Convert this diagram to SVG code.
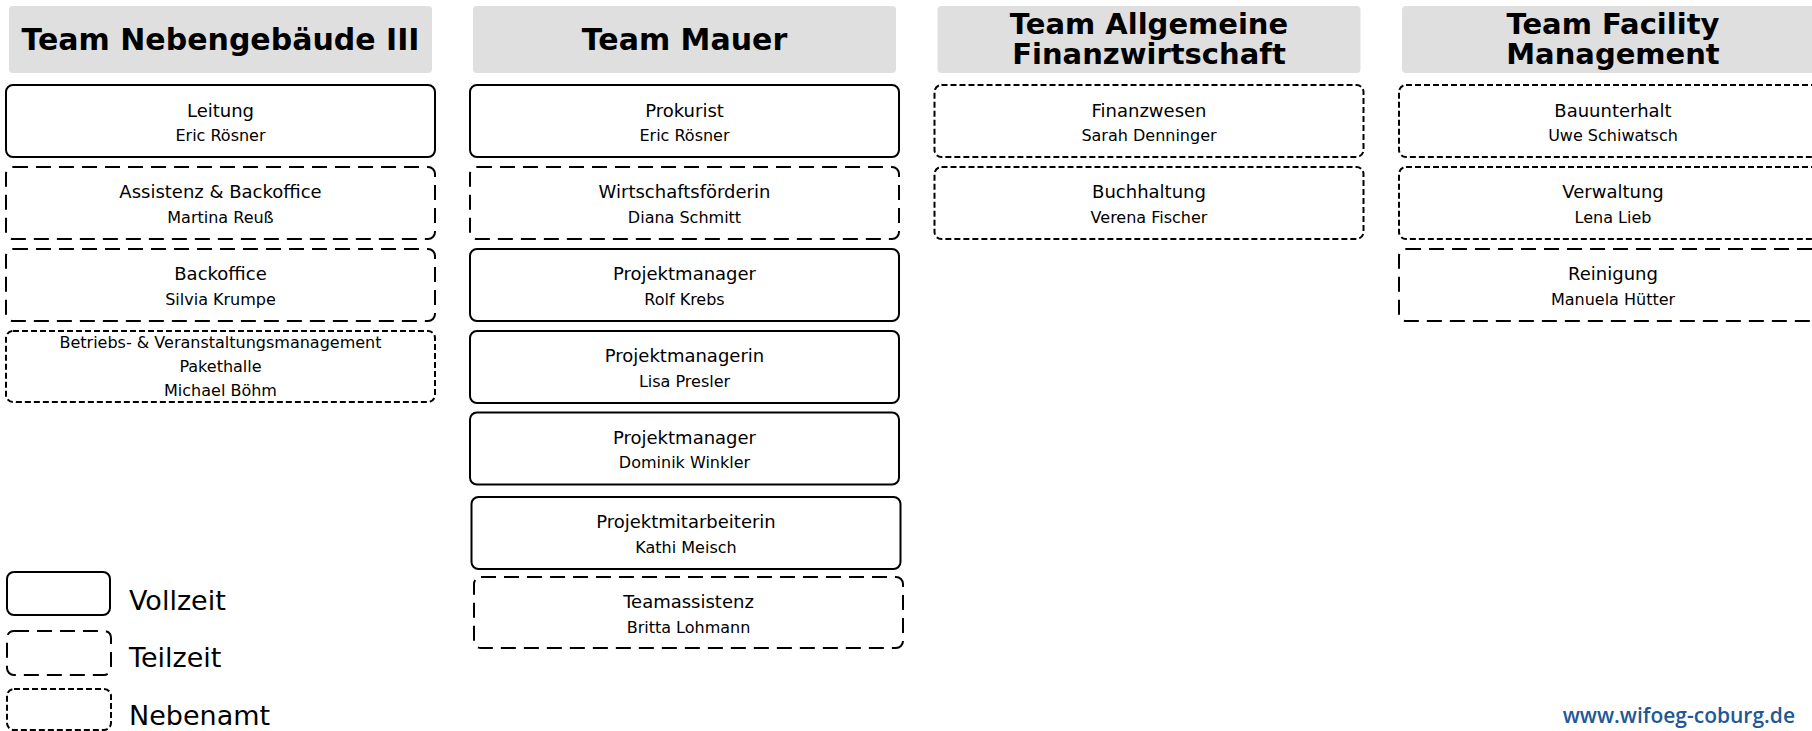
<svg xmlns="http://www.w3.org/2000/svg" width="1812" height="731" viewBox="0 0 1812 731">
<style>
.bg{fill:#ffffff}
.hdr{fill:#dfdfdf}
.ht{font-family:"DejaVu Sans",Verdana,sans-serif;font-weight:bold;font-size:30px;fill:#000;text-anchor:middle}
.ht2{font-family:"DejaVu Sans",Verdana,sans-serif;font-weight:bold;font-size:29px;fill:#000;text-anchor:middle}
.box{fill:#fff;stroke:#000;stroke-width:2}
.voll{}
.teil{stroke-dasharray:15 8}
.neben{stroke-dasharray:6 3}
.t1{font-family:"DejaVu Sans",Verdana,sans-serif;font-size:18px;fill:#000;text-anchor:middle}
.t2{font-family:"DejaVu Sans",Verdana,sans-serif;font-size:16px;fill:#000;text-anchor:middle}
.lg{font-family:"DejaVu Sans",Verdana,sans-serif;font-size:27px;fill:#000}
.url{font-family:"Open Sans",sans-serif;font-weight:600;font-size:21px;fill:#1f5896;text-anchor:end}
</style>
<rect class="bg" x="0" y="0" width="1812" height="731"/>

<g id="headers">
  <g id="hdr-nebengebaeude">
    <rect class="hdr" x="9" y="6" width="423" height="67" rx="4"/>
    <text class="ht" x="220.5" y="49.5">Team Nebengebäude III</text>
  </g>
  <g id="hdr-mauer">
    <rect class="hdr" x="473" y="6" width="423" height="67" rx="4"/>
    <text class="ht" x="684.5" y="49.5">Team Mauer</text>
  </g>
  <g id="hdr-finanz">
    <rect class="hdr" x="937.5" y="6" width="423" height="67" rx="4"/>
    <text class="ht2" x="1149" y="34">Team Allgemeine</text>
    <text class="ht2" x="1149" y="64">Finanzwirtschaft</text>
  </g>
  <g id="hdr-facility">
    <rect class="hdr" x="1402" y="6" width="423" height="67" rx="4"/>
    <text class="ht2" x="1613" y="34">Team Facility</text>
    <text class="ht2" x="1613" y="64">Management</text>
  </g>
</g>

<g id="connectors"></g>

<!-- Column 1 -->
<g id="n-leitung">
  <rect class="box voll" x="6" y="85" width="429" height="72" rx="7"/>
  <text class="t1" x="220.5" y="117">Leitung</text>
  <text class="t2" x="220.5" y="140.5">Eric Rösner</text>
</g>
<g id="n-assistenz">
  <rect class="box teil" x="6" y="167" width="429" height="72" rx="7"/>
  <text class="t1" x="220.5" y="198">Assistenz &amp; Backoffice</text>
  <text class="t2" x="220.5" y="222.5">Martina Reuß</text>
</g>
<g id="n-backoffice">
  <rect class="box teil" x="6" y="249" width="429" height="72" rx="7"/>
  <text class="t1" x="220.5" y="280">Backoffice</text>
  <text class="t2" x="220.5" y="304.5">Silvia Krumpe</text>
</g>
<g id="n-betrieb">
  <rect class="box neben" x="6" y="331" width="429" height="71" rx="7"/>
  <text class="t2" x="220.5" y="347.5">Betriebs- &amp; Veranstaltungsmanagement</text>
  <text class="t2" x="220.5" y="371.5">Pakethalle</text>
  <text class="t2" x="220.5" y="395.5">Michael Böhm</text>
</g>

<!-- Column 2 -->
<g id="n-prokurist">
  <rect class="box voll" x="470" y="85" width="429" height="72" rx="7"/>
  <text class="t1" x="684.5" y="117">Prokurist</text>
  <text class="t2" x="684.5" y="140.5">Eric Rösner</text>
</g>
<g id="n-wirtschaft">
  <rect class="box teil" x="470" y="167" width="429" height="72" rx="7"/>
  <text class="t1" x="684.5" y="198">Wirtschaftsförderin</text>
  <text class="t2" x="684.5" y="222.5">Diana Schmitt</text>
</g>
<g id="n-pm-krebs">
  <rect class="box voll" x="470" y="249" width="429" height="72" rx="7"/>
  <text class="t1" x="684.5" y="280">Projektmanager</text>
  <text class="t2" x="684.5" y="304.5">Rolf Krebs</text>
</g>
<g id="n-pm-presler">
  <rect class="box voll" x="470" y="331" width="429" height="72" rx="7"/>
  <text class="t1" x="684.5" y="362">Projektmanagerin</text>
  <text class="t2" x="684.5" y="386.5">Lisa Presler</text>
</g>
<g id="n-pm-winkler">
  <rect class="box voll" x="470" y="412.5" width="429" height="72" rx="7"/>
  <text class="t1" x="684.5" y="443.5">Projektmanager</text>
  <text class="t2" x="684.5" y="468">Dominik Winkler</text>
</g>
<g id="n-pma-meisch">
  <rect class="box voll" x="471.5" y="497" width="429" height="72" rx="7"/>
  <text class="t1" x="686" y="528">Projektmitarbeiterin</text>
  <text class="t2" x="686" y="552.5">Kathi Meisch</text>
</g>
<g id="n-teamassistenz">
  <rect class="box teil" x="474" y="577" width="429" height="71" rx="7"/>
  <text class="t1" x="688.5" y="608">Teamassistenz</text>
  <text class="t2" x="688.5" y="632.5">Britta Lohmann</text>
</g>

<!-- Column 3 -->
<g id="n-finanzwesen">
  <rect class="box neben" x="934.5" y="85" width="429" height="72" rx="7"/>
  <text class="t1" x="1149" y="117">Finanzwesen</text>
  <text class="t2" x="1149" y="140.5">Sarah Denninger</text>
</g>
<g id="n-buchhaltung">
  <rect class="box neben" x="934.5" y="167" width="429" height="72" rx="7"/>
  <text class="t1" x="1149" y="198">Buchhaltung</text>
  <text class="t2" x="1149" y="222.5">Verena Fischer</text>
</g>

<!-- Column 4 -->
<g id="n-bauunterhalt">
  <rect class="box neben" x="1399" y="85" width="429" height="72" rx="7"/>
  <text class="t1" x="1613" y="117">Bauunterhalt</text>
  <text class="t2" x="1613" y="140.5">Uwe Schiwatsch</text>
</g>
<g id="n-verwaltung">
  <rect class="box neben" x="1399" y="167" width="429" height="72" rx="7"/>
  <text class="t1" x="1613" y="198">Verwaltung</text>
  <text class="t2" x="1613" y="222.5">Lena Lieb</text>
</g>
<g id="n-reinigung">
  <rect class="box teil" x="1399" y="249" width="429" height="72" rx="7"/>
  <text class="t1" x="1613" y="280">Reinigung</text>
  <text class="t2" x="1613" y="304.5">Manuela Hütter</text>
</g>

<!-- Legend -->
<g id="legend">
  <g id="lg-vollzeit">
    <rect class="box voll" x="7" y="572" width="103" height="43" rx="7"/>
    <text class="lg" x="129" y="610">Vollzeit</text>
  </g>
  <g id="lg-teilzeit">
    <rect class="box teil" x="7" y="631" width="104" height="44" rx="7"/>
    <text class="lg" x="129" y="667">Teilzeit</text>
  </g>
  <g id="lg-nebenamt">
    <rect class="box neben" x="7" y="689" width="104" height="41" rx="7"/>
    <text class="lg" x="129" y="725">Nebenamt</text>
  </g>
</g>

<text class="url" x="1795" y="722.5">www.wifoeg-coburg.de</text>
</svg>
